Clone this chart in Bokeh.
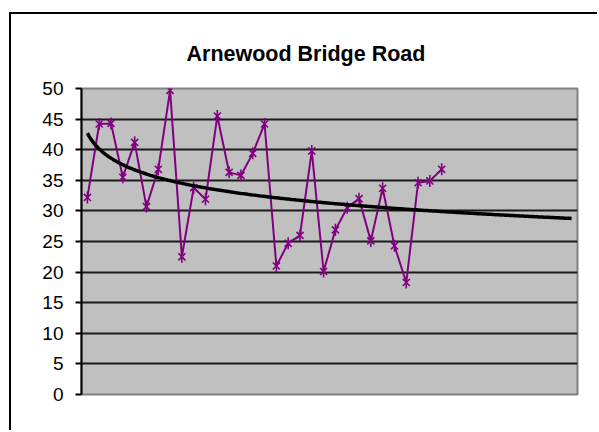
import numpy as np
from bokeh.plotting import figure
from bokeh.models import Range1d, FixedTicker
from bokeh.embed import file_html
from bokeh.resources import INLINE

# ---- data ----
title_text = "Arnewood Bridge Road"
periods = list(range(1, 32))
speeds = [32.2, 44.2, 44.3, 35.5, 41.2, 30.7, 36.8, 49.7, 22.5, 33.8,
          31.9, 45.5, 36.3, 35.8, 39.4, 44.2, 21.0, 24.7, 26.0, 39.8,
          20.1, 26.9, 30.5, 32.0, 25.1, 33.7, 24.3, 18.3, 34.6, 34.9,
          36.8]
n_categories = 42          # category slots on the x axis (trend forecast)
y_ticks = [0, 5, 10, 15, 20, 25, 30, 35, 40, 45, 50]

# logarithmic trend line fitted to the series
b, a = np.polyfit(np.log(periods), speeds, 1)
trend_x = np.linspace(1, n_categories, 300)
trend_y = a + b * np.log(trend_x)

FONT = "Liberation Sans"
PURPLE = "#800080"

p = figure(width=588, height=418, output_backend="svg", toolbar_location=None,
           x_range=Range1d(0.5, n_categories + 0.5), y_range=Range1d(0, 50),
           min_border_left=70, min_border_right=22, min_border_top=74,
           min_border_bottom=38, title=title_text)

# chart-area frame (black edge on top / left, as in the spreadsheet)
p.margin = (12, 0, 0, 9)
p.styles = {"border-top": "2px solid black", "border-left": "2px solid black"}

p.title.text_font = FONT
p.title.text_font_style = "bold"
p.title.text_font_size = "21.5px"
p.title.align = "left"
p.title.offset = 105
p.title.standoff = 46
p.title.text_color = "black"

p.background_fill_color = "#C0C0C0"
p.border_fill_color = "white"
p.outline_line_color = "#808080"
p.outline_line_width = 2

p.xaxis.visible = False
p.xgrid.visible = False

p.yaxis.ticker = FixedTicker(ticks=y_ticks)
p.yaxis.axis_line_color = "black"
p.yaxis.axis_line_width = 2
p.yaxis.major_tick_line_color = "black"
p.yaxis.major_tick_line_width = 2
p.yaxis.major_tick_out = 6
p.yaxis.major_tick_in = 0
p.yaxis.minor_tick_line_color = None
p.yaxis.major_label_standoff = 12
p.yaxis.major_label_text_font = FONT
p.yaxis.major_label_text_font_size = "19px"
p.yaxis.major_label_text_color = "black"

p.ygrid.ticker = FixedTicker(ticks=y_ticks[1:-1])
p.ygrid.grid_line_color = "#1a1a1a"
p.ygrid.grid_line_width = 2

# series
p.line(periods, speeds, line_color=PURPLE, line_width=2)
p.scatter(periods, speeds, marker="x", size=10, line_color=PURPLE, line_width=1.6)
p.scatter(periods, speeds, marker="dash", angle=np.pi / 2, size=12,
          line_color=PURPLE, line_width=1.6)

# trend line
p.line(trend_x, trend_y, line_color="black", line_width=3.5)

open("out.html", "w").write(file_html(p, INLINE))
